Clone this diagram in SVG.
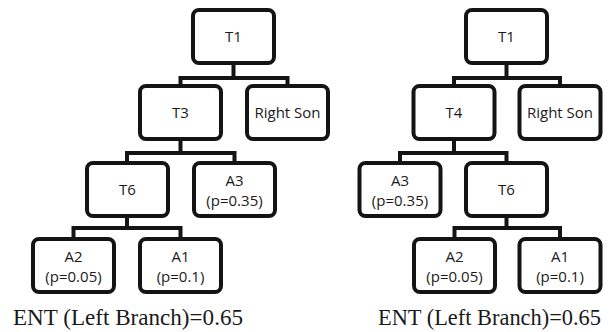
<svg xmlns="http://www.w3.org/2000/svg" width="611" height="332" viewBox="0 0 611 332">
  <style>
    .box { fill: #fff; stroke: #141414; stroke-width: 4; }
    .wire { fill: none; stroke: #141414; stroke-width: 4; stroke-linejoin: miter; }
    .lbl { font-family: "Open Sans", "Noto Sans", sans-serif; font-size: 15px; fill: #1a1a1a; text-anchor: middle; }
    .ent { font-family: "Liberation Serif", "Times New Roman", serif; font-size: 23px; fill: #1a1a1a; }
  </style>
  <rect width="611" height="332" fill="#fff"/>

  <!-- connectors -->
  <g id="connectors">
    <!-- left tree -->
    <path class="wire" d="M233.5 64 V78 M180.5 84 V78 H287.5 V84"/>
    <path class="wire" d="M180.5 141 V153 M127 161 V153 H234.5 V161"/>
    <path class="wire" d="M127 218 V228 M73.5 237 V228 H180.5 V237"/>
    <!-- right tree -->
    <path class="wire" d="M506.5 64 V78 M454 84 V78 H560 V84"/>
    <path class="wire" d="M454 141 V153 M400 161 V153 H506.5 V161"/>
    <path class="wire" d="M506.5 218 V228 M454.5 237 V228 H560 V237"/>
  </g>

  <!-- left tree nodes -->
  <g id="l-t1"><rect class="box" x="193" y="10" width="81" height="53" rx="6"/><text class="lbl" x="233.5" y="42">T1</text></g>
  <g id="l-t3"><rect class="box" x="140" y="86" width="81" height="53" rx="6"/><text class="lbl" x="180.5" y="118">T3</text></g>
  <g id="l-rightson"><rect class="box" x="247" y="86" width="81" height="53" rx="6"/><text class="lbl" x="287.5" y="118">Right Son</text></g>
  <g id="l-t6"><rect class="box" x="87" y="163" width="81" height="53" rx="6"/><text class="lbl" x="127.5" y="195">T6</text></g>
  <g id="l-a3"><rect class="box" x="194" y="163" width="81" height="53" rx="6"/><text class="lbl" x="234.5" y="186">A3</text><text class="lbl" x="234.5" y="206">(p=0.35)</text></g>
  <g id="l-a2"><rect class="box" x="33" y="239" width="81" height="53" rx="6"/><text class="lbl" x="73.5" y="262">A2</text><text class="lbl" x="73.5" y="282">(p=0.05)</text></g>
  <g id="l-a1"><rect class="box" x="140" y="239" width="81" height="53" rx="6"/><text class="lbl" x="180.5" y="262">A1</text><text class="lbl" x="180.5" y="282">(p=0.1)</text></g>

  <!-- right tree nodes -->
  <g id="r-t1"><rect class="box" x="466" y="10" width="81" height="53" rx="6"/><text class="lbl" x="506.5" y="42">T1</text></g>
  <g id="r-t4"><rect class="box" x="413.5" y="86" width="81" height="53" rx="6"/><text class="lbl" x="454" y="118">T4</text></g>
  <g id="r-rightson"><rect class="box" x="519.5" y="86" width="81" height="53" rx="6"/><text class="lbl" x="560" y="118">Right Son</text></g>
  <g id="r-a3"><rect class="box" x="359.5" y="163" width="81" height="53" rx="6"/><text class="lbl" x="400" y="186">A3</text><text class="lbl" x="400" y="206">(p=0.35)</text></g>
  <g id="r-t6"><rect class="box" x="466" y="163" width="81" height="53" rx="6"/><text class="lbl" x="506.5" y="195">T6</text></g>
  <g id="r-a2"><rect class="box" x="414" y="239" width="81" height="53" rx="6"/><text class="lbl" x="454.5" y="262">A2</text><text class="lbl" x="454.5" y="282">(p=0.05)</text></g>
  <g id="r-a1"><rect class="box" x="519.5" y="239" width="81" height="53" rx="6"/><text class="lbl" x="560" y="262">A1</text><text class="lbl" x="560" y="282">(p=0.1)</text></g>

  <!-- captions -->
  <text class="ent" x="13" y="325" textLength="230" lengthAdjust="spacingAndGlyphs">ENT (Left Branch)=0.65</text>
  <text class="ent" x="378" y="325" textLength="223" lengthAdjust="spacingAndGlyphs">ENT (Left Branch)=0.65</text>
</svg>
